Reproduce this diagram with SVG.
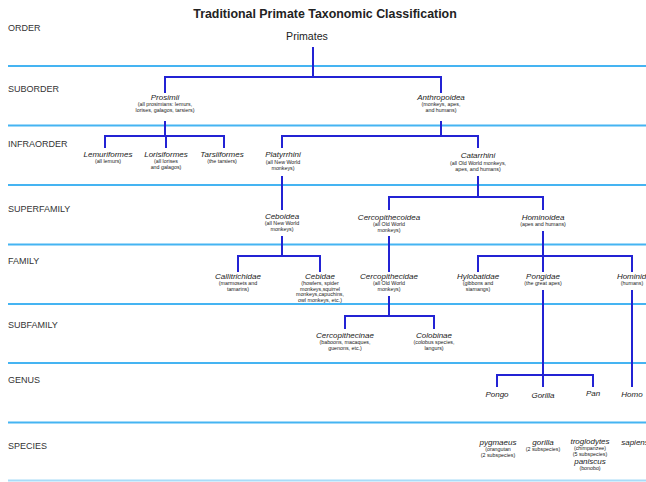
<svg xmlns="http://www.w3.org/2000/svg" width="646" height="482" viewBox="0 0 646 482">
<style>
text{font-family:"Liberation Sans",Arial,sans-serif;fill:#222}
.title{font-size:12.4px;font-weight:bold;text-anchor:middle}
.rank{font-size:9px;fill:#333}
.n{font-size:8px;font-style:italic;text-anchor:middle}
.s{font-size:5.3px;text-anchor:middle}
.top{font-size:10.6px;text-anchor:middle}
.row{stroke:#45b4f2;stroke-width:1.8;fill:none}
.c{stroke:#2323d4;stroke-width:2;fill:none;stroke-linejoin:miter}
</style>
<rect width="646" height="482" fill="#fff"/>
<text class="title" x="325" y="18">Traditional Primate Taxonomic Classification</text>
<g id="rows">
<line class="row" x1="8" y1="66" x2="646" y2="66"/>
<line class="row" x1="8" y1="125.5" x2="646" y2="125.5"/>
<line class="row" x1="8" y1="185" x2="646" y2="185"/>
<line class="row" x1="8" y1="244.5" x2="646" y2="244.5"/>
<line class="row" x1="8" y1="304" x2="646" y2="304"/>
<line class="row" x1="8" y1="363" x2="646" y2="363"/>
<line class="row" x1="8" y1="422.5" x2="646" y2="422.5"/>
<line class="row" x1="8" y1="480.5" x2="646" y2="480.5" style="stroke:#a8dcf8"/>
</g>
<g id="ranks">
<text class="rank" x="8" y="31">ORDER</text>
<text class="rank" x="8" y="92">SUBORDER</text>
<text class="rank" x="8" y="147">INFRAORDER</text>
<text class="rank" x="8" y="212">SUPERFAMILY</text>
<text class="rank" x="8" y="264">FAMILY</text>
<text class="rank" x="8" y="328">SUBFAMILY</text>
<text class="rank" x="8" y="383">GENUS</text>
<text class="rank" x="8" y="449">SPECIES</text>
</g>
<g id="connectors">
<path class="c" d="M313 47V77M165 93V77H441V93"/>
<path class="c" d="M165 121V136M105 148V136H224V148M166 136V148"/>
<path class="c" d="M441 121V136M282 148V136H478V148"/>
<path class="c" d="M282 176V210"/>
<path class="c" d="M478 176V197M389 210V197H543V210"/>
<path class="c" d="M282 236V256M238 272V256H320V272"/>
<path class="c" d="M389 236V272"/>
<path class="c" d="M543 231V272M478 272V256H632V272"/>
<path class="c" d="M389 296V316M345 329V316H434V329"/>
<path class="c" d="M543 290V387M497 387V375H593V387"/>
<path class="c" d="M632 290V387"/>
</g>
<g id="primates"><text class="top" x="307" y="40">Primates</text></g>
<g id="prosimii"><text class="n" x="165" y="100">Prosimii</text><text class="s" x="165" y="106">(all prosimians: lemurs,</text><text class="s" x="165" y="112">lorises, galagos, tarsiers)</text></g>
<g id="anthropoidea"><text class="n" x="441" y="100">Anthropoidea</text><text class="s" x="441" y="106">(monkeys, apes,</text><text class="s" x="441" y="112">and humans)</text></g>
<g id="lemuriformes"><text class="n" x="108" y="157">Lemuriformes</text><text class="s" x="108" y="163">(all lemurs)</text></g>
<g id="lorisiformes"><text class="n" x="166" y="157">Lorisiformes</text><text class="s" x="166" y="163">(all lorises</text><text class="s" x="166" y="169">and galagos)</text></g>
<g id="tarsiiformes"><text class="n" x="222" y="157">Tarsiiformes</text><text class="s" x="222" y="163">(the tarsiers)</text></g>
<g id="platyrrhini"><text class="n" x="283" y="157">Platyrrhini</text><text class="s" x="283" y="164">(all New World</text><text class="s" x="283" y="170">monkeys)</text></g>
<g id="catarrhini"><text class="n" x="478" y="158">Catarrhini</text><text class="s" x="478" y="165">(all Old World monkeys,</text><text class="s" x="478" y="171">apes, and humans)</text></g>
<g id="ceboidea"><text class="n" x="282" y="219">Ceboidea</text><text class="s" x="282" y="225">(all New World</text><text class="s" x="282" y="231">monkeys)</text></g>
<g id="cercopithecoidea"><text class="n" x="389" y="220">Cercopithecoidea</text><text class="s" x="389" y="226">(all Old World</text><text class="s" x="389" y="232">monkeys)</text></g>
<g id="hominoidea"><text class="n" x="543" y="220">Hominoidea</text><text class="s" x="543" y="226">(apes and humans)</text></g>
<g id="callitrichidae"><text class="n" x="238" y="279">Callitrichidae</text><text class="s" x="238" y="285">(marmosets and</text><text class="s" x="238" y="291">tamarins)</text></g>
<g id="cebidae"><text class="n" x="320" y="279">Cebidae</text><text class="s" x="320" y="285">(howlers, spider</text><text class="s" x="320" y="290.5">monkeys,squirrel</text><text class="s" x="320" y="296">monkeys,capuchins,</text><text class="s" x="320" y="301.5">owl monkeys, etc.)</text></g>
<g id="cercopithecidae"><text class="n" x="389" y="279">Cercopithecidae</text><text class="s" x="389" y="285">(all Old World</text><text class="s" x="389" y="291">monkeys)</text></g>
<g id="hylobatidae"><text class="n" x="478" y="279">Hylobatidae</text><text class="s" x="478" y="285">(gibbons and</text><text class="s" x="478" y="291">siamangs)</text></g>
<g id="pongidae"><text class="n" x="543" y="279">Pongidae</text><text class="s" x="543" y="285">(the great apes)</text></g>
<g id="hominidae"><text class="n" x="636" y="279">Hominidae</text><text class="s" x="632" y="285">(humans)</text></g>
<g id="cercopithecinae"><text class="n" x="345" y="338">Cercopithecinae</text><text class="s" x="345" y="344">(baboons, macaques,</text><text class="s" x="345" y="350">guenons, etc.)</text></g>
<g id="colobinae"><text class="n" x="434" y="338">Colobinae</text><text class="s" x="434" y="344">(colobus species,</text><text class="s" x="434" y="350">langurs)</text></g>
<g id="pongo"><text class="n" x="497" y="397">Pongo</text></g>
<g id="gorilla"><text class="n" x="543" y="398">Gorilla</text></g>
<g id="pan"><text class="n" x="593" y="396">Pan</text></g>
<g id="homo"><text class="n" x="632" y="397">Homo</text></g>
<g id="pygmaeus"><text class="n" x="498" y="445">pygmaeus</text><text class="s" x="498" y="451">(orangutan</text><text class="s" x="498" y="457">(2 subspecies)</text></g>
<g id="gorilla-sp"><text class="n" x="543" y="445">gorilla</text><text class="s" x="543" y="451">(2 subspecies)</text></g>
<g id="troglodytes"><text class="n" x="590" y="444">troglodytes</text><text class="s" x="590" y="450">(chimpanzee)</text><text class="s" x="590" y="456">(5 subspecies)</text></g>
<g id="paniscus"><text class="n" x="590" y="464">paniscus</text><text class="s" x="590" y="470">(bonobo)</text></g>
<g id="sapiens"><text class="n" x="635" y="445">sapiens</text></g>
</svg>
